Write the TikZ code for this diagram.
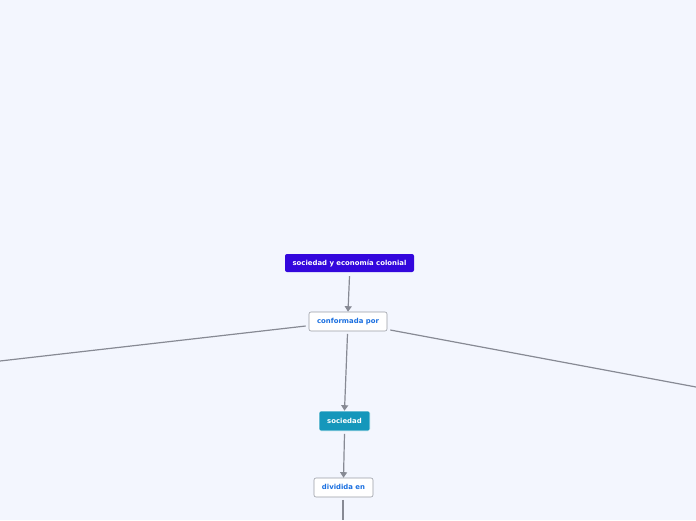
\documentclass[tikz,border=0pt]{standalone}
\usepackage{fontspec}
\setmainfont{DejaVu Sans}
\usetikzlibrary{arrows.meta}
\definecolor{bg}{HTML}{F3F6FE}
\definecolor{topc}{HTML}{3307DD}
\definecolor{teal}{HTML}{1597BB}
\definecolor{linec}{HTML}{878A94}
\definecolor{bluetxt}{HTML}{1A6FE0}
\definecolor{bord}{HTML}{9A9DA6}
\tikzset{
  base/.style={rounded corners=2pt, font=\fontsize{6.9}{8}\selectfont\bfseries, inner sep=0pt, text height=5pt, text depth=1pt, anchor=center},
  mainbox/.style={base, fill=topc, text=white, minimum width=129pt, minimum height=18pt},
  tealbox/.style={base, fill=teal, text=white, draw=white, line width=0.6pt, minimum width=51pt, minimum height=20pt},
  linkbox/.style={base, fill=white, draw=bord, line width=0.6pt, text=bluetxt},
  conn/.style={draw=linec, line width=1.2pt},
  arr/.style={conn, -{Triangle[length=5.5pt,width=7pt]}},
}
\begin{document}
\begin{tikzpicture}[x=1pt,y=-1pt]
\fill[bg] (0,0) rectangle (696,520);
\useasboundingbox (0,0) rectangle (696,520);
\node[mainbox] (top) at (349.5,263) {sociedad y economía colonial};
\node[linkbox, minimum width=78pt, minimum height=19pt] (conf) at (348,321.5) {conformada por};
\node[tealbox] (soc) at (344.5,421) {sociedad};
\node[linkbox, minimum width=59pt, minimum height=19pt] (div) at (343.5,487.5) {dividida en};
\coordinate (L) at (0,361);
\coordinate (R) at (696,387);
\coordinate (B) at (343,520);
\draw[arr] ([yshift=-4pt]top.south) -- (conf.north);
\draw[arr] ([xshift=-0.5pt,yshift=-2.5pt]conf.south) -- (soc.north);
\draw[arr] ([yshift=-2.5pt]soc.south) -- (div.north);
\draw[conn] ([xshift=-3pt,yshift=-4.5pt]conf.west) -- (L);
\draw[conn] ([xshift=3pt,yshift=-8.5pt]conf.east) -- (R);
\draw[conn] ([xshift=-0.5pt,yshift=-2.5pt]div.south) -- (B);
\end{tikzpicture}
\end{document}
